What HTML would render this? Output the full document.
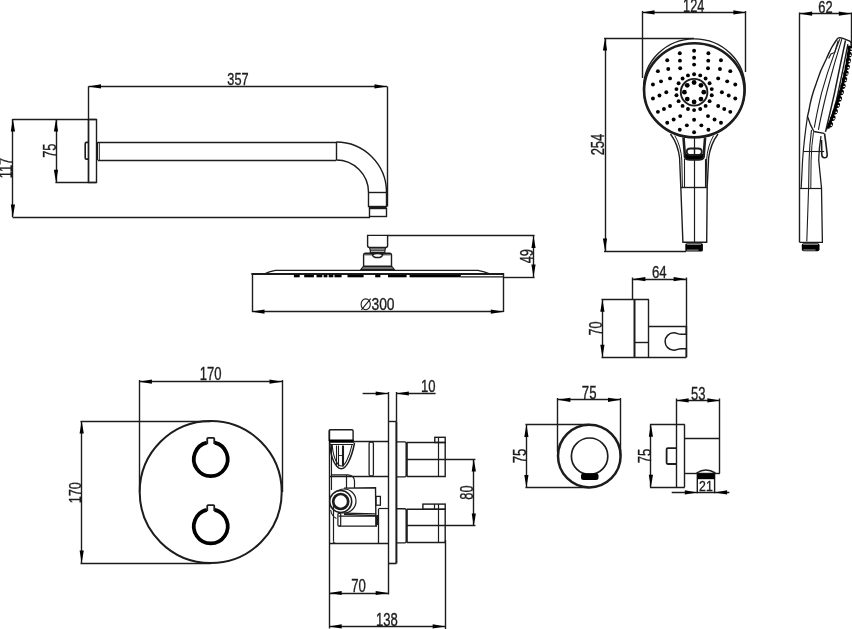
<!DOCTYPE html>
<html><head><meta charset="utf-8"><style>
html,body{margin:0;padding:0;background:#fff;width:852px;height:629px;overflow:hidden}
svg{display:block;will-change:transform}
text{font-family:"Liberation Sans",sans-serif}
</style></head><body>
<svg width="852" height="629" viewBox="0 0 852 629" stroke="#1c1c1c" fill="none" stroke-linecap="butt" stroke-linejoin="miter">
<line x1="88.50" y1="86.50" x2="387.00" y2="86.50" stroke-width="1.4"/>
<path d="M88.50,86.40 L101.00,84.30 L101.00,88.50 Z" stroke="none" fill="#000"/>
<path d="M387.00,86.40 L374.50,88.50 L374.50,84.30 Z" stroke="none" fill="#000"/>
<text fill="#1c1c1c" stroke="#1c1c1c" stroke-width="0.35" font-family="Liberation Sans, sans-serif" transform="translate(227.29,85.13) scale(0.755,1)" font-size="16.90">357</text>
<line x1="88.50" y1="86.40" x2="88.50" y2="182.20" stroke-width="1.4"/>
<line x1="387.50" y1="86.40" x2="387.50" y2="206.50" stroke-width="1.4"/>
<line x1="12.50" y1="119.00" x2="12.50" y2="217.00" stroke-width="1.4"/>
<path d="M12.90,119.00 L15.00,131.50 L10.80,131.50 Z" stroke="none" fill="#000"/>
<path d="M12.90,217.00 L10.80,204.50 L15.00,204.50 Z" stroke="none" fill="#000"/>
<line x1="12.50" y1="119.50" x2="96.30" y2="119.50" stroke-width="1.4"/>
<line x1="12.50" y1="217.50" x2="370.00" y2="217.50" stroke-width="1.4"/>
<text fill="#1c1c1c" stroke="#1c1c1c" stroke-width="0.35" font-family="Liberation Sans, sans-serif" transform="translate(12.10,178.37) rotate(-90) scale(0.706,1)" font-size="18.41">117</text>
<line x1="56.50" y1="119.00" x2="56.50" y2="182.20" stroke-width="1.4"/>
<path d="M56.00,119.00 L58.10,131.50 L53.90,131.50 Z" stroke="none" fill="#000"/>
<path d="M56.00,182.20 L53.90,169.70 L58.10,169.70 Z" stroke="none" fill="#000"/>
<line x1="55.40" y1="182.50" x2="96.30" y2="182.50" stroke-width="1.4"/>
<text fill="#1c1c1c" stroke="#1c1c1c" stroke-width="0.35" font-family="Liberation Sans, sans-serif" transform="translate(55.72,157.74) rotate(-90) scale(0.692,1)" font-size="18.43">75</text>
<rect x="88.50" y="119.50" width="8.00" height="63.00" rx="0" stroke-width="1.4" fill="none"/>
<path d="M88.5,142.4 L86.4,142.4 Q85.2,142.4 85.2,143.8 L85.2,157.7 Q85.2,159.1 86.4,159.1 L88.5,159.1" stroke-width="1.6" fill="none" />
<line x1="97.70" y1="142.50" x2="336.20" y2="142.50" stroke-width="1.4"/>
<line x1="97.70" y1="160.50" x2="336.20" y2="160.50" stroke-width="1.4"/>
<line x1="97.50" y1="142.00" x2="97.50" y2="160.00" stroke-width="1.4"/>
<line x1="99.50" y1="142.00" x2="99.50" y2="160.00" stroke-width="0.8"/>
<line x1="336.50" y1="142.00" x2="336.50" y2="160.00" stroke-width="1.4"/>
<path d="M336.2,142 A50.3,50.3 0 0 1 386.5,192.3" stroke-width="1.4" fill="none" />
<path d="M336.2,160 A32.3,32.3 0 0 1 368.5,192.3" stroke-width="1.4" fill="none" />
<rect x="368.50" y="192.50" width="18.00" height="14.00" rx="0" stroke-width="1.4" fill="none"/>
<line x1="368.80" y1="207.50" x2="386.50" y2="207.50" stroke-width="1.8"/>
<rect x="369.50" y="208.50" width="17.00" height="8.00" rx="0" stroke-width="1.4" fill="none"/>
<path d="M252,274.1 L264,274.1 Q269,271.5 275.4,270.4 L478,270.4 Q484,271.5 490.5,274.1" stroke-width="1.3" fill="none" />
<line x1="251.40" y1="274.10" x2="503.30" y2="274.10" stroke-width="2.0"/>
<line x1="252.50" y1="273.00" x2="252.50" y2="312.00" stroke-width="1.4"/>
<line x1="503.50" y1="273.00" x2="503.50" y2="312.00" stroke-width="1.4"/>
<line x1="252.00" y1="311.50" x2="503.30" y2="311.50" stroke-width="1.4"/>
<path d="M252.00,311.70 L264.50,309.60 L264.50,313.80 Z" stroke="none" fill="#000"/>
<path d="M503.30,311.70 L490.80,313.80 L490.80,309.60 Z" stroke="none" fill="#000"/>
<ellipse cx="365.70" cy="304.30" rx="4.60" ry="5.40" stroke-width="1.1" fill="none"/>
<line x1="361.40" y1="309.80" x2="370.70" y2="298.60" stroke-width="1.1"/>
<text fill="#1c1c1c" stroke="#1c1c1c" stroke-width="0.35" font-family="Liberation Sans, sans-serif" transform="translate(371.45,309.84) scale(0.862,1)" font-size="16.06">300</text>
<rect x="293.90" y="274.8" width="5.80" height="2.5" fill="#000" stroke="none"/>
<rect x="304.20" y="274.8" width="9.70" height="2.5" fill="#000" stroke="none"/>
<rect x="316.50" y="274.8" width="5.80" height="2.5" fill="#000" stroke="none"/>
<rect x="323.60" y="274.8" width="3.80" height="2.5" fill="#000" stroke="none"/>
<rect x="328.70" y="274.8" width="4.60" height="2.5" fill="#000" stroke="none"/>
<rect x="334.50" y="274.8" width="7.10" height="2.5" fill="#000" stroke="none"/>
<rect x="347.50" y="274.8" width="16.10" height="2.5" fill="#000" stroke="none"/>
<rect x="375.20" y="274.8" width="5.20" height="2.5" fill="#000" stroke="none"/>
<rect x="388.00" y="274.8" width="18.60" height="2.5" fill="#000" stroke="none"/>
<rect x="409.60" y="274.8" width="51.20" height="2.5" fill="#000" stroke="none"/>
<line x1="460.80" y1="276.90" x2="503.30" y2="276.90" stroke-width="1.3"/>
<path d="M367.6,235.4 L387.6,235.4 L387.6,245.5 Q387.6,247.5 385.6,247.5 L369.6,247.5 Q367.6,247.5 367.6,245.5 Z" stroke-width="1.4" fill="none" />
<path d="M369.5,247.5 Q370.5,250 370.5,253.2" stroke-width="1.2" fill="none" />
<path d="M385.7,247.5 Q384.7,250 384.7,253.2" stroke-width="1.2" fill="none" />
<line x1="370.20" y1="249.00" x2="385.00" y2="249.00" stroke-width="1.1"/>
<line x1="370.50" y1="250.80" x2="384.70" y2="250.80" stroke-width="1.1"/>
<line x1="370.50" y1="252.50" x2="384.70" y2="252.50" stroke-width="1.0"/>
<path d="M363.6,266.1 L363.6,255.2 Q363.6,253.2 365.6,253.2 L389.5,253.2 Q391.5,253.2 391.5,255.2 L391.5,266.1" stroke-width="1.4" fill="none" />
<line x1="364.50" y1="254.80" x2="372.50" y2="254.80" stroke-width="1.0"/>
<line x1="382.60" y1="254.80" x2="390.60" y2="254.80" stroke-width="1.0"/>
<path d="M372.4,254.6 Q373,257.6 377.5,257.6 Q382.1,257.6 382.7,254.6 Q380.5,253.6 377.5,253.6 Q374.6,253.6 372.4,254.6 Z" stroke-width="1.5" fill="#fff"/>
<path d="M363.3,266.3 L391.8,266.3" stroke-width="1.6" fill="none" />
<path d="M363.6,266.3 L361.0,269.6 L394.1,269.6 L391.5,266.3" stroke-width="1.4" fill="none" />
<rect x="362.5" y="267.2" width="30.2" height="1.6" fill="#555" stroke="none"/>
<line x1="387.70" y1="235.50" x2="534.60" y2="235.50" stroke-width="1.4"/>
<line x1="503.60" y1="277.50" x2="534.60" y2="277.50" stroke-width="1.4"/>
<line x1="533.50" y1="235.60" x2="533.50" y2="277.00" stroke-width="1.4"/>
<path d="M533.50,235.60 L535.60,248.10 L531.40,248.10 Z" stroke="none" fill="#000"/>
<path d="M533.50,277.00 L531.40,264.50 L535.60,264.50 Z" stroke="none" fill="#000"/>
<text fill="#1c1c1c" stroke="#1c1c1c" stroke-width="0.35" font-family="Liberation Sans, sans-serif" transform="translate(532.62,263.36) rotate(-90) scale(0.711,1)" font-size="18.03">49</text>
<line x1="642.00" y1="12.50" x2="745.90" y2="12.50" stroke-width="1.4"/>
<path d="M642.00,12.40 L654.50,10.30 L654.50,14.50 Z" stroke="none" fill="#000"/>
<path d="M745.90,12.40 L733.40,14.50 L733.40,10.30 Z" stroke="none" fill="#000"/>
<text fill="#1c1c1c" stroke="#1c1c1c" stroke-width="0.35" font-family="Liberation Sans, sans-serif" transform="translate(683.04,12.00) scale(0.720,1)" font-size="17.71">124</text>
<line x1="642.50" y1="11.00" x2="642.50" y2="78.00" stroke-width="1.4"/>
<line x1="745.50" y1="11.00" x2="745.50" y2="72.00" stroke-width="1.4"/>
<line x1="605.50" y1="38.00" x2="605.50" y2="251.00" stroke-width="1.4"/>
<path d="M605.00,38.00 L607.10,50.50 L602.90,50.50 Z" stroke="none" fill="#000"/>
<path d="M605.00,251.00 L602.90,238.50 L607.10,238.50 Z" stroke="none" fill="#000"/>
<line x1="604.00" y1="38.50" x2="694.00" y2="38.50" stroke-width="1.4"/>
<line x1="604.00" y1="251.50" x2="686.00" y2="251.50" stroke-width="1.4"/>
<text fill="#1c1c1c" stroke="#1c1c1c" stroke-width="0.35" font-family="Liberation Sans, sans-serif" transform="translate(604.42,155.35) rotate(-90) scale(0.721,1)" font-size="18.03">254</text>
<path d="M670.5,134 Q678,144 679.6,158 L680.8,187 L682.9,242.3 L706.7,242.3 L707.2,187 L708.6,158 Q710.5,144 718,134" stroke-width="1.4" fill="none" />
<path d="M674.8,135.6 Q681,146 681.8,160 L682.4,187" stroke-width="1.0" fill="none" />
<path d="M713.6,135.6 Q707.5,146 706.6,160 L706,187" stroke-width="1.0" fill="none" />
<line x1="680.80" y1="187.50" x2="707.20" y2="187.50" stroke-width="1.4"/>
<line x1="694.50" y1="137.00" x2="694.50" y2="242.30" stroke-width="1.2"/>
<path d="M683.5,137.5 L685,157 Q686,159.5 690,159.5 L698.6,159.5 Q702.6,159.5 703.6,157 L705.1,137.5" stroke-width="2.6" fill="none" />
<path d="M685.5,154 L703,154 L702.8,157.5 Q702,159 698.6,159 L690,159 Q686.6,159 685.8,157.5 Z" fill="#000" stroke="none"/>
<path d="M686.8,151.7 Q686.8,148.5 690.5,148.5 L698,148.5 Q701.8,148.5 701.8,151.7 Q701.8,155 698,155 L690.5,155 Q686.8,155 686.8,151.7 Z" stroke-width="1.8" fill="#fff"/>
<line x1="694.50" y1="147.50" x2="694.50" y2="156.00" stroke-width="1.4"/>
<line x1="684.50" y1="159.00" x2="684.50" y2="187.00" stroke-width="1.1"/>
<line x1="705.50" y1="159.00" x2="705.50" y2="187.00" stroke-width="1.1"/>
<rect x="685.3" y="243.2" width="17.6" height="8.2" fill="#000" stroke="none" rx="1.5"/>
<path d="M686.8,244.3 L701,244.3 M686.8,250.1 L698.5,250.1" stroke="#c8c8c8" stroke-width="0.8"/>
<ellipse cx="694.3" cy="88.2" rx="50.8" ry="49.3" fill="#fff" stroke-width="1.4"/>
<ellipse cx="694.3" cy="90.25" rx="50.2" ry="47.05" fill="none" stroke-width="2.6"/>
<circle cx="694.10" cy="92.20" r="13.30" stroke-width="1.9" fill="none"/>
<circle cx="694.10" cy="82.50" r="2.40" stroke="none" fill="#000"/>
<circle cx="700.96" cy="85.34" r="2.40" stroke="none" fill="#000"/>
<circle cx="703.80" cy="92.20" r="2.40" stroke="none" fill="#000"/>
<circle cx="700.96" cy="99.06" r="2.40" stroke="none" fill="#000"/>
<circle cx="694.10" cy="101.90" r="2.40" stroke="none" fill="#000"/>
<circle cx="687.24" cy="99.06" r="2.40" stroke="none" fill="#000"/>
<circle cx="684.40" cy="92.20" r="2.40" stroke="none" fill="#000"/>
<circle cx="687.24" cy="85.34" r="2.40" stroke="none" fill="#000"/>
<circle cx="694.10" cy="74.30" r="1.95" stroke="none" fill="#000"/>
<circle cx="700.22" cy="75.38" r="1.95" stroke="none" fill="#000"/>
<circle cx="705.61" cy="78.49" r="1.95" stroke="none" fill="#000"/>
<circle cx="709.60" cy="83.25" r="1.95" stroke="none" fill="#000"/>
<circle cx="711.73" cy="89.09" r="1.95" stroke="none" fill="#000"/>
<circle cx="711.73" cy="95.31" r="1.95" stroke="none" fill="#000"/>
<circle cx="709.60" cy="101.15" r="1.95" stroke="none" fill="#000"/>
<circle cx="705.61" cy="105.91" r="1.95" stroke="none" fill="#000"/>
<circle cx="700.22" cy="109.02" r="1.95" stroke="none" fill="#000"/>
<circle cx="694.10" cy="110.10" r="1.95" stroke="none" fill="#000"/>
<circle cx="687.98" cy="109.02" r="1.95" stroke="none" fill="#000"/>
<circle cx="682.59" cy="105.91" r="1.95" stroke="none" fill="#000"/>
<circle cx="678.60" cy="101.15" r="1.95" stroke="none" fill="#000"/>
<circle cx="676.47" cy="95.31" r="1.95" stroke="none" fill="#000"/>
<circle cx="676.47" cy="89.09" r="1.95" stroke="none" fill="#000"/>
<circle cx="678.60" cy="83.25" r="1.95" stroke="none" fill="#000"/>
<circle cx="682.59" cy="78.49" r="1.95" stroke="none" fill="#000"/>
<circle cx="687.98" cy="75.38" r="1.95" stroke="none" fill="#000"/>
<circle cx="694.10" cy="64.60" r="1.95" stroke="none" fill="#000"/>
<circle cx="708.00" cy="68.30" r="1.95" stroke="none" fill="#000"/>
<circle cx="718.18" cy="78.40" r="1.95" stroke="none" fill="#000"/>
<circle cx="721.90" cy="92.20" r="1.95" stroke="none" fill="#000"/>
<circle cx="718.18" cy="106.00" r="1.95" stroke="none" fill="#000"/>
<circle cx="708.00" cy="116.10" r="1.95" stroke="none" fill="#000"/>
<circle cx="694.10" cy="119.80" r="1.95" stroke="none" fill="#000"/>
<circle cx="680.20" cy="116.10" r="1.95" stroke="none" fill="#000"/>
<circle cx="670.02" cy="106.00" r="1.95" stroke="none" fill="#000"/>
<circle cx="666.30" cy="92.20" r="1.95" stroke="none" fill="#000"/>
<circle cx="670.02" cy="78.40" r="1.95" stroke="none" fill="#000"/>
<circle cx="680.20" cy="68.30" r="1.95" stroke="none" fill="#000"/>
<circle cx="694.10" cy="57.70" r="1.95" stroke="none" fill="#000"/>
<circle cx="708.25" cy="60.66" r="1.95" stroke="none" fill="#000"/>
<circle cx="719.96" cy="69.02" r="1.95" stroke="none" fill="#000"/>
<circle cx="727.20" cy="81.33" r="1.95" stroke="none" fill="#000"/>
<circle cx="728.71" cy="95.47" r="1.95" stroke="none" fill="#000"/>
<circle cx="724.24" cy="109.00" r="1.95" stroke="none" fill="#000"/>
<circle cx="714.55" cy="119.57" r="1.95" stroke="none" fill="#000"/>
<circle cx="701.34" cy="125.35" r="1.95" stroke="none" fill="#000"/>
<circle cx="686.86" cy="125.35" r="1.95" stroke="none" fill="#000"/>
<circle cx="673.65" cy="119.57" r="1.95" stroke="none" fill="#000"/>
<circle cx="663.96" cy="109.00" r="1.95" stroke="none" fill="#000"/>
<circle cx="659.49" cy="95.47" r="1.95" stroke="none" fill="#000"/>
<circle cx="661.00" cy="81.33" r="1.95" stroke="none" fill="#000"/>
<circle cx="668.24" cy="69.02" r="1.95" stroke="none" fill="#000"/>
<circle cx="679.95" cy="60.66" r="1.95" stroke="none" fill="#000"/>
<circle cx="694.10" cy="50.80" r="1.95" stroke="none" fill="#000"/>
<circle cx="708.40" cy="53.25" r="1.95" stroke="none" fill="#000"/>
<circle cx="720.97" cy="60.32" r="1.95" stroke="none" fill="#000"/>
<circle cx="730.30" cy="71.15" r="1.95" stroke="none" fill="#000"/>
<circle cx="735.26" cy="84.43" r="1.95" stroke="none" fill="#000"/>
<circle cx="735.26" cy="98.57" r="1.95" stroke="none" fill="#000"/>
<circle cx="730.30" cy="111.85" r="1.95" stroke="none" fill="#000"/>
<circle cx="720.97" cy="122.68" r="1.95" stroke="none" fill="#000"/>
<circle cx="708.40" cy="129.75" r="1.95" stroke="none" fill="#000"/>
<circle cx="694.10" cy="132.20" r="1.95" stroke="none" fill="#000"/>
<circle cx="679.80" cy="129.75" r="1.95" stroke="none" fill="#000"/>
<circle cx="667.23" cy="122.68" r="1.95" stroke="none" fill="#000"/>
<circle cx="657.90" cy="111.85" r="1.95" stroke="none" fill="#000"/>
<circle cx="652.94" cy="98.57" r="1.95" stroke="none" fill="#000"/>
<circle cx="652.94" cy="84.43" r="1.95" stroke="none" fill="#000"/>
<circle cx="657.90" cy="71.15" r="1.95" stroke="none" fill="#000"/>
<circle cx="667.23" cy="60.32" r="1.95" stroke="none" fill="#000"/>
<circle cx="679.80" cy="53.25" r="1.95" stroke="none" fill="#000"/>
<line x1="799.60" y1="13.50" x2="851.30" y2="13.50" stroke-width="1.4"/>
<path d="M799.60,13.70 L812.10,11.60 L812.10,15.80 Z" stroke="none" fill="#000"/>
<path d="M851.30,13.70 L838.80,15.80 L838.80,11.60 Z" stroke="none" fill="#000"/>
<text fill="#1c1c1c" stroke="#1c1c1c" stroke-width="0.35" font-family="Liberation Sans, sans-serif" transform="translate(818.36,13.03) scale(0.743,1)" font-size="17.32">62</text>
<line x1="799.50" y1="12.50" x2="799.50" y2="242.40" stroke-width="1.4"/>
<line x1="851.50" y1="12.50" x2="851.50" y2="50.00" stroke-width="1.4"/>
<path d="M837.8,38.1 Q840,37.4 843,38.4 L849.8,41.2 Q851.6,42.3 851.2,45" stroke-width="1.4" fill="none" />
<path d="M837.8,38.1 Q831,47 826.5,58.5 Q820,71 816.4,82.9 Q811,97 809,110 L807.5,116.4 Q810,125 813.9,131.5 L824.2,133.4" stroke-width="1.4" fill="none" />
<path d="M838.2,40.5 L834.7,52.4 L831,54 L828.6,58.5" stroke-width="1.1" fill="none" />
<path d="M839.8,39.1 Q835.5,50 834.7,52.4 Q827,73 821.5,93.1 Q817,112 814.3,127.7" stroke-width="1.1" fill="none" />
<path d="M841.8,39.1 Q834,64 827.6,89 Q822,111 818.4,129.8" stroke-width="1.1" fill="none" />
<path d="M845.5,40.3 Q840,66 834.5,93.1 Q830,113 825.5,131.8" stroke-width="1.5" fill="none" />
<path d="M847.9,44.2 Q843,70 836.7,99.2 Q832,117 826.5,129.8" stroke-width="1.4" fill="none"/>
<path d="M849.6,46.0 Q845.2,86.0 828.0,128.5" stroke="#000" stroke-width="2.6" fill="none"/>
<ellipse cx="850.12" cy="48.40" rx="2.9" ry="2.6" transform="rotate(96.9 850.12 48.40)" fill="#000" stroke="none"/>
<ellipse cx="851.22" cy="49.00" rx="0.9" ry="0.8" fill="#fff" stroke="none"/>
<ellipse cx="849.31" cy="54.59" rx="2.9" ry="2.6" transform="rotate(98.2 849.31 54.59)" fill="#000" stroke="none"/>
<ellipse cx="850.41" cy="55.19" rx="0.9" ry="0.8" fill="#fff" stroke="none"/>
<ellipse cx="848.35" cy="60.80" rx="2.9" ry="2.6" transform="rotate(99.6 848.35 60.80)" fill="#000" stroke="none"/>
<ellipse cx="849.45" cy="61.40" rx="0.9" ry="0.8" fill="#fff" stroke="none"/>
<ellipse cx="847.23" cy="67.05" rx="2.9" ry="2.6" transform="rotate(100.9 847.23 67.05)" fill="#000" stroke="none"/>
<ellipse cx="848.33" cy="67.65" rx="0.9" ry="0.8" fill="#fff" stroke="none"/>
<ellipse cx="845.96" cy="73.33" rx="2.9" ry="2.6" transform="rotate(102.1 845.96 73.33)" fill="#000" stroke="none"/>
<ellipse cx="847.06" cy="73.93" rx="0.9" ry="0.8" fill="#fff" stroke="none"/>
<ellipse cx="844.54" cy="79.63" rx="2.9" ry="2.6" transform="rotate(103.4 844.54 79.63)" fill="#000" stroke="none"/>
<ellipse cx="845.64" cy="80.23" rx="0.9" ry="0.8" fill="#fff" stroke="none"/>
<ellipse cx="842.97" cy="85.97" rx="2.9" ry="2.6" transform="rotate(104.6 842.97 85.97)" fill="#000" stroke="none"/>
<ellipse cx="844.07" cy="86.57" rx="0.9" ry="0.8" fill="#fff" stroke="none"/>
<ellipse cx="841.25" cy="92.33" rx="2.9" ry="2.6" transform="rotate(105.8 841.25 92.33)" fill="#000" stroke="none"/>
<ellipse cx="842.35" cy="92.93" rx="0.9" ry="0.8" fill="#fff" stroke="none"/>
<ellipse cx="839.37" cy="98.72" rx="2.9" ry="2.6" transform="rotate(107.0 839.37 98.72)" fill="#000" stroke="none"/>
<ellipse cx="840.47" cy="99.32" rx="0.9" ry="0.8" fill="#fff" stroke="none"/>
<ellipse cx="837.35" cy="105.15" rx="2.9" ry="2.6" transform="rotate(108.2 837.35 105.15)" fill="#000" stroke="none"/>
<ellipse cx="838.45" cy="105.75" rx="0.9" ry="0.8" fill="#fff" stroke="none"/>
<ellipse cx="835.17" cy="111.60" rx="2.9" ry="2.6" transform="rotate(109.3 835.17 111.60)" fill="#000" stroke="none"/>
<ellipse cx="836.27" cy="112.20" rx="0.9" ry="0.8" fill="#fff" stroke="none"/>
<ellipse cx="832.84" cy="118.08" rx="2.9" ry="2.6" transform="rotate(110.4 832.84 118.08)" fill="#000" stroke="none"/>
<ellipse cx="833.94" cy="118.68" rx="0.9" ry="0.8" fill="#fff" stroke="none"/>
<ellipse cx="830.36" cy="124.60" rx="2.9" ry="2.6" transform="rotate(111.5 830.36 124.60)" fill="#000" stroke="none"/>
<ellipse cx="831.46" cy="125.20" rx="0.9" ry="0.8" fill="#fff" stroke="none"/>
<path d="M807.5,116.4 Q804,140 802.6,160 L801.2,188" stroke-width="1.2" fill="none" />
<path d="M811.5,129.9 Q809.5,145 809.1,160 L808.6,188 L806.8,241.5" stroke-width="1.1" fill="none" />
<path d="M813.5,132.3 Q811.5,145 811.1,160 L810.8,188" stroke-width="1.0" fill="none" />
<path d="M821,136.2 Q819,148 818.7,160 L821.5,188 L822.4,242.4 L799.7,242.4" stroke-width="1.3" fill="none" />
<path d="M824.5,133.4 Q826.2,145 827.2,154.5 Q827.4,157.7 824.5,157.7 Q821.8,157.7 821.8,154.5 L821.5,140" stroke-width="1.6" fill="none" />
<line x1="803.20" y1="151.50" x2="824.20" y2="151.50" stroke-width="1.1"/>
<line x1="799.70" y1="188.50" x2="821.50" y2="188.50" stroke-width="1.2"/>
<rect x="801.8" y="243.2" width="17.7" height="8.0" rx="2" fill="#000" stroke="none"/>
<path d="M803.3,244.3 L818,244.3 M803.3,250.0 L815.5,250.0" stroke="#c8c8c8" stroke-width="0.8"/>
<line x1="632.90" y1="279.50" x2="686.10" y2="279.50" stroke-width="1.4"/>
<path d="M632.90,279.10 L645.40,277.00 L645.40,281.20 Z" stroke="none" fill="#000"/>
<path d="M686.10,279.10 L673.60,281.20 L673.60,277.00 Z" stroke="none" fill="#000"/>
<text fill="#1c1c1c" stroke="#1c1c1c" stroke-width="0.35" font-family="Liberation Sans, sans-serif" transform="translate(651.94,278.33) scale(0.762,1)" font-size="17.32">64</text>
<line x1="632.50" y1="277.50" x2="632.50" y2="299.30" stroke-width="1.4"/>
<line x1="686.50" y1="277.50" x2="686.50" y2="326.00" stroke-width="1.4"/>
<line x1="602.50" y1="299.30" x2="602.50" y2="357.30" stroke-width="1.4"/>
<path d="M602.40,299.30 L604.50,311.80 L600.30,311.80 Z" stroke="none" fill="#000"/>
<path d="M602.40,357.30 L600.30,344.80 L604.50,344.80 Z" stroke="none" fill="#000"/>
<line x1="601.50" y1="299.50" x2="648.90" y2="299.50" stroke-width="1.4"/>
<line x1="601.50" y1="357.50" x2="686.30" y2="357.50" stroke-width="1.4"/>
<text fill="#1c1c1c" stroke="#1c1c1c" stroke-width="0.35" font-family="Liberation Sans, sans-serif" transform="translate(601.72,335.53) rotate(-90) scale(0.693,1)" font-size="18.17">70</text>
<line x1="634.50" y1="299.30" x2="634.50" y2="357.30" stroke-width="2.0"/>
<line x1="648.50" y1="299.30" x2="648.50" y2="357.30" stroke-width="1.4"/>
<line x1="634.30" y1="342.50" x2="648.90" y2="342.50" stroke-width="1.4"/>
<line x1="648.90" y1="326.50" x2="686.30" y2="326.50" stroke-width="1.4"/>
<path d="M686.3,326 L686.3,334.3 L681.3,334.3 Q679,334.3 677.5,333.6 Q675.5,332.8 673.8,332.8 A8.7,8.7 0 0 0 673.8,350.2 Q675.5,350.2 677.5,349.4 Q679,348.8 681.3,348.8 L686.3,348.8 L686.3,357.3" stroke-width="1.5" fill="none" />
<line x1="686.50" y1="326.00" x2="686.50" y2="357.30" stroke-width="1.6"/>
<line x1="139.40" y1="381.50" x2="282.00" y2="381.50" stroke-width="1.4"/>
<path d="M139.40,381.70 L151.90,379.60 L151.90,383.80 Z" stroke="none" fill="#000"/>
<path d="M282.00,381.70 L269.50,383.80 L269.50,379.60 Z" stroke="none" fill="#000"/>
<text fill="#1c1c1c" stroke="#1c1c1c" stroke-width="0.35" font-family="Liberation Sans, sans-serif" transform="translate(199.82,380.32) scale(0.736,1)" font-size="17.75">170</text>
<line x1="139.50" y1="380.00" x2="139.50" y2="492.00" stroke-width="1.4"/>
<line x1="282.50" y1="380.00" x2="282.50" y2="492.00" stroke-width="1.4"/>
<circle cx="210.70" cy="492.00" r="71.00" stroke-width="2.0" fill="none"/>
<line x1="81.50" y1="421.00" x2="81.50" y2="563.00" stroke-width="1.4"/>
<path d="M81.70,421.00 L83.80,433.50 L79.60,433.50 Z" stroke="none" fill="#000"/>
<path d="M81.70,563.00 L79.60,550.50 L83.80,550.50 Z" stroke="none" fill="#000"/>
<line x1="80.50" y1="421.50" x2="210.70" y2="421.50" stroke-width="1.4"/>
<line x1="80.50" y1="563.50" x2="210.70" y2="563.50" stroke-width="1.4"/>
<text fill="#1c1c1c" stroke="#1c1c1c" stroke-width="0.35" font-family="Liberation Sans, sans-serif" transform="translate(80.63,503.35) rotate(-90) scale(0.741,1)" font-size="17.18">170</text>
<path d="M206.85,442.70 A16.95,16.95 0 1 0 214.65,442.70" stroke-width="3.8" stroke="#000" fill="none"/>
<path d="M207.25,443.90 L207.25,438.60 Q207.25,437.90 208.15,437.90 L213.35,437.90 Q214.25,437.90 214.25,438.60 L214.25,443.90" stroke-width="1.8" fill="none"/>
<path d="M206.85,509.90 A16.95,16.95 0 1 0 214.65,509.90" stroke-width="3.8" stroke="#000" fill="none"/>
<path d="M207.25,511.10 L207.25,505.80 Q207.25,505.10 208.15,505.10 L213.35,505.10 Q214.25,505.10 214.25,505.80 L214.25,511.10" stroke-width="1.8" fill="none"/>
<line x1="362.60" y1="393.50" x2="388.20" y2="393.50" stroke-width="1.4"/>
<path d="M388.20,393.50 L375.70,395.60 L375.70,391.40 Z" stroke="none" fill="#000"/>
<line x1="396.30" y1="393.50" x2="435.60" y2="393.50" stroke-width="1.4"/>
<path d="M396.30,393.50 L408.80,391.40 L408.80,395.60 Z" stroke="none" fill="#000"/>
<text fill="#1c1c1c" stroke="#1c1c1c" stroke-width="0.35" font-family="Liberation Sans, sans-serif" transform="translate(421.02,392.03) scale(0.769,1)" font-size="17.04">10</text>
<line x1="388.50" y1="392.00" x2="388.50" y2="594.50" stroke-width="1.4"/>
<line x1="396.50" y1="392.00" x2="396.50" y2="421.70" stroke-width="1.4"/>
<line x1="396.40" y1="421.70" x2="396.40" y2="563.60" stroke-width="2.0"/>
<line x1="388.20" y1="421.50" x2="396.30" y2="421.50" stroke-width="1.4"/>
<line x1="388.20" y1="563.50" x2="396.30" y2="563.50" stroke-width="1.6"/>
<line x1="329.20" y1="593.50" x2="388.20" y2="593.50" stroke-width="1.4"/>
<path d="M329.20,593.00 L341.70,590.90 L341.70,595.10 Z" stroke="none" fill="#000"/>
<path d="M388.20,593.00 L375.70,595.10 L375.70,590.90 Z" stroke="none" fill="#000"/>
<text fill="#1c1c1c" stroke="#1c1c1c" stroke-width="0.35" font-family="Liberation Sans, sans-serif" transform="translate(351.24,591.82) scale(0.731,1)" font-size="18.03">70</text>
<line x1="329.50" y1="429.70" x2="329.50" y2="628.50" stroke-width="1.4"/>
<line x1="329.20" y1="626.50" x2="445.20" y2="626.50" stroke-width="1.4"/>
<path d="M329.20,626.40 L341.70,624.30 L341.70,628.50 Z" stroke="none" fill="#000"/>
<path d="M445.20,626.40 L432.70,628.50 L432.70,624.30 Z" stroke="none" fill="#000"/>
<text fill="#1c1c1c" stroke="#1c1c1c" stroke-width="0.35" font-family="Liberation Sans, sans-serif" transform="translate(375.92,625.82) scale(0.732,1)" font-size="17.89">138</text>
<line x1="445.50" y1="540.00" x2="445.50" y2="629.00" stroke-width="1.4"/>
<line x1="407.00" y1="459.50" x2="475.40" y2="459.50" stroke-width="1.4"/>
<line x1="407.00" y1="525.50" x2="475.40" y2="525.50" stroke-width="1.4"/>
<line x1="473.50" y1="459.10" x2="473.50" y2="525.90" stroke-width="1.4"/>
<path d="M473.80,459.10 L475.90,471.60 L471.70,471.60 Z" stroke="none" fill="#000"/>
<path d="M473.80,525.90 L471.70,513.40 L475.90,513.40 Z" stroke="none" fill="#000"/>
<text fill="#1c1c1c" stroke="#1c1c1c" stroke-width="0.35" font-family="Liberation Sans, sans-serif" transform="translate(473.03,499.68) rotate(-90) scale(0.734,1)" font-size="17.46">80</text>
<path d="M396.7,441.90 L404.7,441.90 Q406.3,441.90 406.3,443.50 L406.3,475.30 Q406.3,476.90 404.7,476.90 L396.7,476.90" stroke-width="1.4" fill="none"/>
<line x1="406.80" y1="442.40" x2="406.80" y2="476.40" stroke-width="2.0"/>
<path d="M407,442.50 L445.2,442.50 L445.2,476.50 L407,476.50" stroke-width="1.4" fill="none" />
<line x1="438.50" y1="437.30" x2="438.50" y2="476.50" stroke-width="1.2"/>
<rect x="434.80" y="437.30" width="10.40" height="5.20" rx="0" stroke-width="1.4" fill="none"/>
<path d="M396.7,508.70 L404.7,508.70 Q406.3,508.70 406.3,510.30 L406.3,541.30 Q406.3,542.90 404.7,542.90 L396.7,542.90" stroke-width="1.4" fill="none"/>
<line x1="406.80" y1="509.20" x2="406.80" y2="542.40" stroke-width="2.0"/>
<path d="M407,509.30 L445.2,509.30 L445.2,542.50 L407,542.50" stroke-width="1.4" fill="none" />
<line x1="438.50" y1="504.10" x2="438.50" y2="542.50" stroke-width="1.2"/>
<rect x="422.90" y="504.10" width="22.30" height="5.20" rx="0" stroke-width="1.4" fill="none"/>
<line x1="434.50" y1="504.10" x2="434.50" y2="509.30" stroke-width="1.2"/>
<path d="M329.2,441 L329.2,431 Q329.2,429.7 330.5,429.7 L351.8,429.7 Q353.1,429.7 353.1,431 L353.1,441" stroke-width="1.4" fill="none" />
<path d="M329.2,439.6 L353.2,439.6 L354.6,442.7 L329.2,442.7 Z" fill="#000" stroke="none"/>
<line x1="353.00" y1="441.50" x2="388.20" y2="441.50" stroke-width="1.4"/>
<line x1="329.20" y1="444.50" x2="353.00" y2="444.50" stroke-width="1.0"/>
<path d="M329.7,443 Q330.5,455 334,462 Q337.5,468.8 341.2,468.8 Q345,468.8 348.5,462 Q352.5,454 354.5,443" stroke-width="1.5" fill="none" />
<path d="M332.2,445 Q333,455 336,461 Q338.5,466 341.2,466 Q344,466 346.5,461 Q350,454 352,445" stroke-width="1.1" fill="none" />
<line x1="336.50" y1="445.50" x2="336.50" y2="466.50" stroke-width="1.1"/>
<line x1="338.50" y1="445.50" x2="338.50" y2="466.50" stroke-width="1.1"/>
<line x1="342.50" y1="445.50" x2="342.50" y2="466.50" stroke-width="1.1"/>
<line x1="343.50" y1="445.50" x2="343.50" y2="466.50" stroke-width="1.1"/>
<line x1="338.00" y1="455.50" x2="342.20" y2="455.50" stroke-width="0.9"/>
<rect x="369.1" y="442.1" width="4.3" height="33.9" rx="1.5" stroke-width="1.3" fill="none"/>
<line x1="329.20" y1="476.50" x2="388.20" y2="476.50" stroke-width="1.4"/>
<line x1="331.50" y1="444.00" x2="331.50" y2="490.00" stroke-width="1.1"/>
<path d="M331.6,474.8 L348,474.8 Q354.5,475.5 354.5,481 L354.5,488.1" stroke-width="1.2" fill="none" />
<line x1="346.50" y1="475.00" x2="346.50" y2="488.10" stroke-width="1.2"/>
<path d="M344,488.1 L375.5,487.7 L376,526.3" stroke-width="1.4" fill="none" />
<rect x="376.00" y="496.40" width="4.40" height="8.80" rx="0" stroke-width="1.3" fill="none"/>
<path d="M344,513.1 L375.7,513.9" stroke-width="1.2" fill="none" />
<path d="M344,514.4 L375.7,515.6" stroke-width="1.2" fill="none" />
<path d="M338.5,516.1 L376.3,516.1 L376.3,526.1 L338.5,526.1" stroke-width="1.4" fill="none" />
<line x1="377.50" y1="515.00" x2="377.50" y2="525.00" stroke-width="2.0"/>
<rect x="337.9" y="513.3" width="2.8" height="12.7" rx="1" stroke-width="1.2" fill="none"/>
<circle cx="344.00" cy="501.00" r="12.00" stroke-width="1.2" fill="none"/>
<circle cx="340.7" cy="501.5" r="11.0" fill="#fff" stroke-width="1.5"/>
<circle cx="340.70" cy="501.50" r="7.50" stroke-width="2.7" fill="none"/>
<path d="M330.7,510 Q331.5,516 336.4,518.5" stroke-width="1.1" fill="none" />
<line x1="333.50" y1="505.00" x2="333.50" y2="541.50" stroke-width="1.2"/>
<path d="M333.5,541.5 Q333.5,543.4 335.5,543.4" stroke-width="1.2" fill="none" />
<line x1="329.20" y1="543.50" x2="388.20" y2="543.50" stroke-width="1.4"/>
<line x1="378.50" y1="508.90" x2="378.50" y2="543.40" stroke-width="1.3"/>
<line x1="378.50" y1="508.50" x2="388.20" y2="508.50" stroke-width="1.2"/>
<line x1="557.90" y1="399.50" x2="620.50" y2="399.50" stroke-width="1.4"/>
<path d="M557.90,399.80 L570.40,397.70 L570.40,401.90 Z" stroke="none" fill="#000"/>
<path d="M620.50,399.80 L608.00,401.90 L608.00,397.70 Z" stroke="none" fill="#000"/>
<text fill="#1c1c1c" stroke="#1c1c1c" stroke-width="0.35" font-family="Liberation Sans, sans-serif" transform="translate(581.84,398.93) scale(0.759,1)" font-size="17.43">75</text>
<line x1="557.50" y1="398.00" x2="557.50" y2="452.00" stroke-width="1.4"/>
<line x1="620.50" y1="398.00" x2="620.50" y2="456.00" stroke-width="1.4"/>
<circle cx="589.30" cy="456.10" r="31.30" stroke-width="2.5" fill="none"/>
<circle cx="589.60" cy="456.20" r="18.20" stroke-width="1.7" fill="none"/>
<rect x="581.0" y="473.3" width="17.5" height="6.7" rx="2.5" fill="#000" stroke="none"/>
<line x1="526.50" y1="424.60" x2="526.50" y2="487.60" stroke-width="1.4"/>
<path d="M526.40,424.60 L528.50,437.10 L524.30,437.10 Z" stroke="none" fill="#000"/>
<path d="M526.40,487.60 L524.30,475.10 L528.50,475.10 Z" stroke="none" fill="#000"/>
<line x1="525.50" y1="424.50" x2="589.30" y2="424.50" stroke-width="1.4"/>
<line x1="525.50" y1="487.50" x2="589.30" y2="487.50" stroke-width="1.4"/>
<text fill="#1c1c1c" stroke="#1c1c1c" stroke-width="0.35" font-family="Liberation Sans, sans-serif" transform="translate(526.11,463.36) rotate(-90) scale(0.713,1)" font-size="18.57">75</text>
<line x1="676.10" y1="400.50" x2="719.90" y2="400.50" stroke-width="1.4"/>
<path d="M676.10,400.40 L688.60,398.30 L688.60,402.50 Z" stroke="none" fill="#000"/>
<path d="M719.90,400.40 L707.40,402.50 L707.40,398.30 Z" stroke="none" fill="#000"/>
<text fill="#1c1c1c" stroke="#1c1c1c" stroke-width="0.35" font-family="Liberation Sans, sans-serif" transform="translate(691.08,399.62) scale(0.739,1)" font-size="17.61">53</text>
<line x1="676.50" y1="398.50" x2="676.50" y2="487.30" stroke-width="1.4"/>
<line x1="719.50" y1="398.50" x2="719.50" y2="473.40" stroke-width="1.4"/>
<line x1="650.50" y1="424.30" x2="650.50" y2="487.30" stroke-width="1.4"/>
<path d="M650.90,424.30 L653.00,436.80 L648.80,436.80 Z" stroke="none" fill="#000"/>
<path d="M650.90,487.30 L648.80,474.80 L653.00,474.80 Z" stroke="none" fill="#000"/>
<line x1="650.00" y1="424.50" x2="684.70" y2="424.50" stroke-width="1.4"/>
<line x1="650.00" y1="487.50" x2="684.70" y2="487.50" stroke-width="1.4"/>
<text fill="#1c1c1c" stroke="#1c1c1c" stroke-width="0.35" font-family="Liberation Sans, sans-serif" transform="translate(650.82,463.35) rotate(-90) scale(0.708,1)" font-size="18.43">75</text>
<line x1="684.50" y1="424.30" x2="684.50" y2="487.30" stroke-width="1.4"/>
<path d="M676.1,448.2 L667.8,448.2 Q666.6,448.2 666.6,449.4 L666.6,462.8 Q666.6,464 667.8,464 L676.1,464" stroke-width="1.8" fill="none" />
<line x1="684.70" y1="438.50" x2="719.90" y2="438.50" stroke-width="1.4"/>
<line x1="684.70" y1="473.50" x2="697.60" y2="473.50" stroke-width="1.4"/>
<line x1="714.60" y1="473.50" x2="719.90" y2="473.50" stroke-width="1.4"/>
<path d="M697.3,493.2 L697.3,473.5 L714.6,473.5 L714.6,493.2" stroke-width="1.4" fill="none"/>
<path d="M696.6,473 Q705.9,466.8 715.3,473" stroke-width="1.5" fill="none"/>
<rect x="697.3" y="473.6" width="17.3" height="5.6" fill="#000" stroke="none"/>
<text fill="#1c1c1c" stroke="#1c1c1c" stroke-width="0.35" font-family="Liberation Sans, sans-serif" transform="translate(699.08,491.00) scale(0.845,1)" font-size="14.57">21</text>
<line x1="671.70" y1="492.50" x2="729.40" y2="492.50" stroke-width="1.4"/>
<path d="M697.30,492.40 L684.80,494.50 L684.80,490.30 Z" stroke="none" fill="#000"/>
<path d="M714.60,492.40 L727.10,490.30 L727.10,494.50 Z" stroke="none" fill="#000"/>
</svg>
</body></html>
